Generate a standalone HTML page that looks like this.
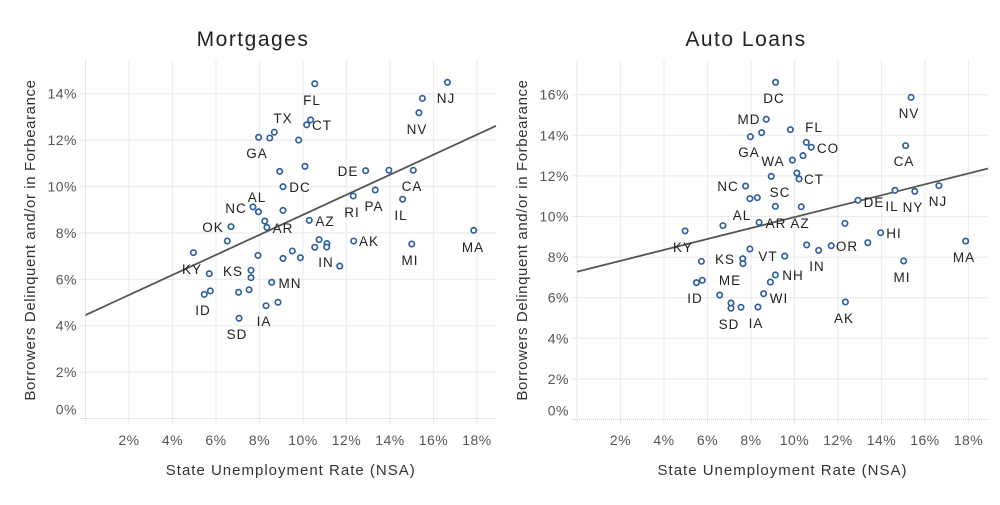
<!DOCTYPE html>
<html><head><meta charset="utf-8"><style>
body{margin:0;background:#fff;width:1000px;height:500px;overflow:hidden}
svg text{font-family:"Liberation Sans",sans-serif}
</style></head><body>
<svg id="c" width="1000" height="500" viewBox="0 0 1000 500"></svg>
<script>
// ---- Mortgages data ----
const mortX=[10.54,16.64,15.49,15.33,10.35,10.17,8.68,8.47,7.96,9.80,10.09,8.93,12.88,13.95,15.07,9.08,13.32,12.31,14.58,7.70,7.95,9.08,8.24,8.34,10.29,6.69,17.85,6.52,12.33,10.74,11.10,11.09,10.54,15.0,4.96,7.93,9.51,9.08,9.88,11.69,5.69,7.61,7.61,8.56,7.52,7.04,5.74,5.46,8.85,8.30,7.06];
const mortY=[14.43,14.49,13.80,13.18,12.87,12.66,12.34,12.09,12.12,12.00,10.87,10.65,10.68,10.70,10.70,9.99,9.85,9.59,9.45,9.12,8.91,8.97,8.51,8.24,8.54,8.27,8.11,7.65,7.65,7.71,7.54,7.39,7.38,7.52,7.15,7.03,7.22,6.90,6.93,6.57,6.24,6.39,6.07,5.87,5.55,5.44,5.50,5.35,5.01,4.86,4.32];
const mortTrend=[4.46,0.432];
const mortLabels=["FL","NJ","NV","TX","CT","GA","DE","CA","DC","AL","PA","RI","IL","NC","AZ","AR","OK","AK","MA","MI","IN","KY","KS","MN","ID","IA","SD"];
const mortLabelPos=[[312,100],[446,98],[417,129],[283,118],[322,125],[257,153],[348,171],[412,186],[300,187],[257,197],[374,206],[352,212],[401,215],[236,208],[325,221],[283,228],[213,227],[369,241],[473,247],[410,260],[326,262],[192,269],[233,271],[290,283],[203,310],[264,321],[237,334]];
const mortYTicks=[0,2,4,6,8,10,12,14];
// ---- Auto loans data ----
const autoX=[9.13,15.36,8.70,9.81,8.49,7.97,10.54,10.77,15.11,10.39,9.90,10.11,10.21,8.93,7.75,16.64,14.62,15.53,7.95,8.29,12.92,9.12,10.31,12.32,8.37,6.71,4.97,13.96,13.37,17.87,10.56,11.69,11.11,7.95,9.55,7.62,7.63,5.72,15.02,9.12,8.89,5.76,5.49,6.56,8.58,12.34,7.08,7.08,7.54,8.32];
const autoY=[16.61,15.87,14.79,14.28,14.13,13.93,13.65,13.41,13.49,13.00,12.78,12.14,11.85,11.98,11.50,11.52,11.29,11.24,10.88,10.93,10.80,10.50,10.48,9.66,9.71,9.55,9.29,9.20,8.71,8.79,8.60,8.56,8.33,8.40,8.05,7.92,7.68,7.79,7.81,7.12,6.77,6.86,6.74,6.13,6.20,5.79,5.74,5.48,5.53,5.54];
const autoTrend=[7.28,0.269];
const autoLabels=["DC","NV","MD","FL","CO","GA","WA","CA","CT","SC","NC","NJ","DE","IL","NY","AL","AR","AZ","HI","KY","OR","VT","KS","MA","IN","NH","ME","MI","ID","WI","AK","SD","IA"];
const autoLabelPos=[[774,98],[909,113],[749,119],[814,127],[828,148],[749,152],[773,161],[904,161],[814,179],[780,192],[728,186],[938,201],[874,202],[892,206],[913,207],[742,215],[776,223],[800,223],[894,233],[683,247],[847,246],[768,256],[725,259],[964,257],[817,266],[793,275],[730,280],[902,277],[695,298],[779,298],[844,318],[729,324],[756,323]];
const autoYTicks=[0,2,4,6,8,10,12,14,16];
const xTicks=[2,4,6,8,10,12,14,16,18];

const svg=document.getElementById('c');
const NS='http://www.w3.org/2000/svg';
function mk(tag,attrs,parent){const e=document.createElementNS(NS,tag);for(const k in attrs)e.setAttribute(k,attrs[k]);(parent||svg).appendChild(e);return e;}

function chart(o){
  const g=mk('g',{});
  
  
  const sx=v=>o.x0+v*o.kx, sy=v=>o.y0-v*o.ky;
  // grid
  xTicks.forEach(t=>{const l=mk('line',{x1:sx(t),x2:sx(t),y1:60,y2:424,stroke:'#ececec','stroke-width':1.2},g);
    
    
    const tx=mk('text',{x:sx(t),y:445,'text-anchor':'middle','font-size':14,fill:'#555','letter-spacing':'0.5'},g);tx.textContent=t+'%';
    
    });
  o.yt.forEach(t=>{if(t>0){const l=mk('line',{x1:o.x0-6,x2:o.x1,y1:sy(t),y2:sy(t),stroke:'#ececec','stroke-width':1.2},g);
    
    }
    const ty=t===0?sy(t)-9:sy(t);
    const tx=mk('text',{x:o.tickX,y:ty+5,'text-anchor':'end','font-size':14,fill:'#555','letter-spacing':'0.5'},g);tx.textContent=t+'%';
    
    });
  const ax=mk('line',{x1:o.x0-6,x2:o.x1,y1:o.y0,y2:o.y0,stroke:'#ccc','stroke-dasharray':'1 1'},g);
  
  
  const ay=mk('line',{x1:o.x0,x2:o.x0,y1:60,y2:o.y0+4,stroke:'#ccc','stroke-dasharray':'1 1'},g);
  
  
  // trend
  const xm=(o.x1-o.x0)/o.kx;
  const tl=mk('line',{x1:sx(0),y1:sy(o.tr[0]),x2:sx(xm),y2:sy(o.tr[0]+o.tr[1]*xm),stroke:'#555','stroke-width':1.8},g);
  
  
  // points
  o.xs.forEach((v,i)=>{const c=mk('circle',{cx:sx(v),cy:sy(o.ys[i]),r:2.7,fill:'#fff',stroke:'#2e5f9e','stroke-width':1.7},g);
    
    });
  o.lab.forEach((s,i)=>{const t=mk('text',{x:o.lp[i][0],y:o.lp[i][1]+5,'text-anchor':'middle','font-size':13.5,fill:'#222','letter-spacing':'1'},g);t.textContent=s;
    
    });
  const ti=mk('text',{x:o.titleX,y:46,'text-anchor':'middle','font-size':21,fill:'#222','letter-spacing':'1.5'},g);ti.textContent=o.title;
  
  
  const xt=mk('text',{x:(o.x0+o.x1)/2,y:475,'text-anchor':'middle','font-size':15,fill:'#333','letter-spacing':'1'},g);xt.textContent='State Unemployment Rate (NSA)';
  
  
  const yt=mk('text',{x:0,y:0,'text-anchor':'middle','font-size':15,fill:'#333','letter-spacing':'0.6',transform:`translate(${o.ytX},240) rotate(-90)`},g);yt.textContent='Borrowers Delinquent and/or in Forbearance';
  
  
}
chart({name:'mortgages-chart',x0:85.5,x1:496,kx:21.75,y0:418.5,ky:23.2,xs:mortX,ys:mortY,tr:mortTrend,lab:mortLabels,lp:mortLabelPos,yt:mortYTicks,tickX:77,title:'Mortgages',titleX:253,ytX:35});
chart({name:'auto-loans-chart',x0:577,x1:988,kx:21.75,y0:419.5,ky:20.3,xs:autoX,ys:autoY,tr:autoTrend,lab:autoLabels,lp:autoLabelPos,yt:autoYTicks,tickX:569,title:'Auto Loans',titleX:746,ytX:527});
</script>
</body></html>
